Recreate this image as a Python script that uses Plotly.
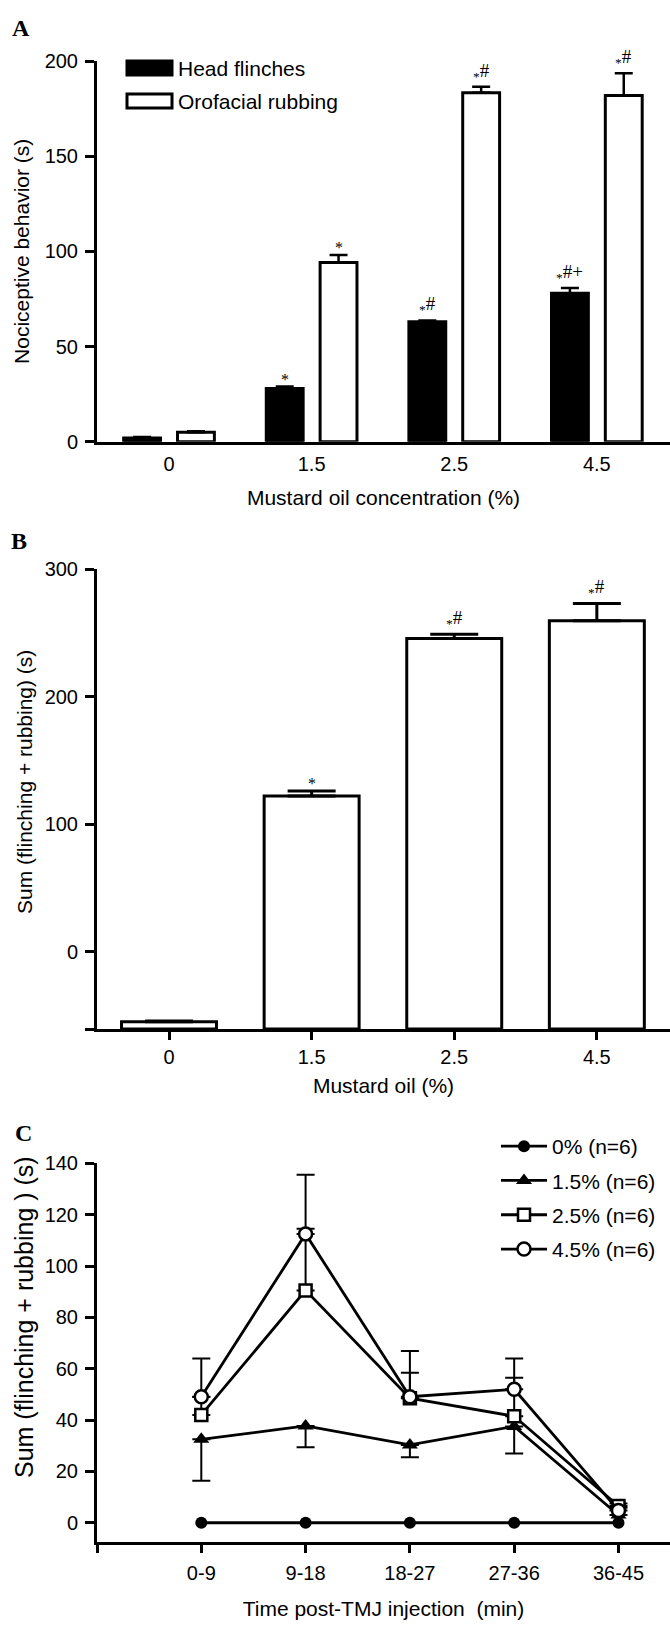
import plotly.graph_objects as go

W, H = 670, 1631

# ---------------- data ----------------
# Panel A
conc_labels = ["0", "1.5", "2.5", "4.5"]
head_flinches = [2.0, 28.0, 63.0, 78.0]
head_flinches_err = [0.5, 1.0, 0.7, 2.7]
orofacial_rubbing = [4.9, 94.2, 183.3, 181.9]
orofacial_rubbing_err = [0.6, 3.9, 3.2, 11.6]
head_marks = ["", "*", "*#", "*#+"]
rub_marks = ["", "*", "*#", "*#"]

# Panel B
sum_labels = ["0", "1.5", "2.5", "4.5"]
sum_values = [-55.0, 122.2, 245.7, 259.6]
sum_err = [0.5, 3.9, 3.4, 13.6]
sum_marks = ["", "*", "*#", "*#"]
b_axis_min = -60.7

# Panel C
time_labels = ["0-9", "9-18", "18-27", "27-36", "36-45"]
c_names = ["0% (n=6)", "1.5% (n=6)", "2.5% (n=6)", "4.5% (n=6)"]
c0 = [0, 0, 0, 0, 0]
c15 = [32.5, 37.7, 30.3, 37.5, 3.0]
c15_err_down = [16.1, 8.3, 4.8, 10.5, 0.0]
c25 = [42.0, 90.5, 48.5, 41.5, 6.5]
c25_err_up = [7.0, 24.0, 9.9, 15.0, 1.0]
c45 = [49.1, 112.5, 49.1, 52.0, 4.8]
c45_err_up = [14.9, 23.0, 17.8, 12.0, 1.0]

# ---------------- helpers ----------------
def px(xp):
    return xp / W

def py(yp):
    return 1 - yp / H

FONT = "Liberation Sans, Arial, sans-serif"
SERIF = "Liberation Serif, Times New Roman, serif"

def mark_text(s):
    if s.startswith("*") and len(s) > 1:
        return "<sub>*</sub>" + s[1:]
    return s

BARGAP = 0.245
BARGROUPGAP = 0.315
off = (1 - BARGAP) / 4

fig = go.Figure()

# ---------------- Panel A ----------------
xA = list(range(len(conc_labels)))
fig.add_trace(go.Bar(
    x=xA, y=head_flinches, name="Head flinches", xaxis="x", yaxis="y",
    marker=dict(color="black", line=dict(color="black", width=3)),
    error_y=dict(type="data", array=head_flinches_err, arrayminus=[0] * 4,
                 symmetric=False, color="black", thickness=2.5, width=9),
    showlegend=False))
fig.add_trace(go.Bar(
    x=xA, y=orofacial_rubbing, name="Orofacial rubbing", xaxis="x", yaxis="y",
    marker=dict(color="white", line=dict(color="black", width=3)),
    error_y=dict(type="data", array=orofacial_rubbing_err, arrayminus=[0] * 4,
                 symmetric=False, color="black", thickness=2.5, width=9),
    showlegend=False))

# ---------------- Panel B ----------------
xB = list(range(len(sum_labels)))
fig.add_trace(go.Bar(
    x=xB, y=[v - b_axis_min for v in sum_values], base=b_axis_min, width=0.666,
    name="Sum", xaxis="x2", yaxis="y2",
    marker=dict(color="white", line=dict(color="black", width=3)),
    error_y=dict(type="data", array=sum_err, arrayminus=[0] * 4,
                 symmetric=False, color="black", thickness=3, width=24),
    showlegend=False))

# ---------------- Panel C ----------------
xC = list(range(1, len(time_labels) + 1))
line_style = dict(color="black", width=2.8)
fig.add_trace(go.Scatter(
    x=xC, y=c0, name=c_names[0], mode="lines+markers", xaxis="x3", yaxis="y3",
    line=line_style, marker=dict(symbol="circle", size=12, color="black"),
    legendgroup="g0"))
fig.add_trace(go.Scatter(
    x=xC, y=c15, name=c_names[1], mode="lines+markers", xaxis="x3", yaxis="y3",
    line=line_style, marker=dict(symbol="triangle-up", size=14, color="black"),
    error_y=dict(type="data", array=[0] * 5, arrayminus=c15_err_down, symmetric=False,
                 color="black", thickness=2, width=9),
    legendgroup="g1"))
fig.add_trace(go.Scatter(
    x=xC, y=c25, name=c_names[2], mode="lines+markers", xaxis="x3", yaxis="y3",
    line=line_style, marker=dict(symbol="square", size=12, color="white",
                                 line=dict(color="black", width=2.5)),
    error_y=dict(type="data", array=c25_err_up, arrayminus=[0] * 5, symmetric=False,
                 color="black", thickness=2, width=9),
    legendgroup="g2"))
fig.add_trace(go.Scatter(
    x=xC, y=c45, name=c_names[3], mode="lines+markers", xaxis="x3", yaxis="y3",
    line=line_style, marker=dict(symbol="circle", size=13, color="white",
                                 line=dict(color="black", width=2.5)),
    error_y=dict(type="data", array=c45_err_up, arrayminus=[0] * 5, symmetric=False,
                 color="black", thickness=2, width=9),
    legendgroup="g3"))

# ---------------- annotations ----------------
annotations = []

def add_mark(text, x, y, xref, yref):
    if not text:
        return
    lone = text == "*"
    annotations.append(dict(
        text=mark_text(text), x=x, y=y, xref=xref, yref=yref,
        xanchor="center", yanchor="bottom", showarrow=False,
        yshift=-3 if lone else 1,
        font=dict(family=SERIF, size=16 if lone else 19, color="black")))

for i in range(len(conc_labels)):
    add_mark(head_marks[i], i - off, head_flinches[i] + head_flinches_err[i], "x", "y")
    add_mark(rub_marks[i], i + off, orofacial_rubbing[i] + orofacial_rubbing_err[i], "x", "y")
for i in range(len(sum_labels)):
    add_mark(sum_marks[i], i, sum_values[i] + sum_err[i], "x2", "y2")

for lab, xp_, yp_ in [("A", 21, 28), ("B", 19, 541), ("C", 23, 1133)]:
    annotations.append(dict(
        text="<b>%s</b>" % lab, x=px(xp_), y=py(yp_), xref="paper", yref="paper",
        xanchor="center", yanchor="middle", showarrow=False,
        font=dict(family=SERIF, size=24, color="black")))

# y titles for B and C
annotations.append(dict(
    text="Sum (flinching + rubbing) (s)", x=px(24), y=py(782), xref="paper", yref="paper",
    xanchor="center", yanchor="middle", textangle=-90, showarrow=False,
    font=dict(family=FONT, size=21, color="black")))
annotations.append(dict(
    text="Sum (flinching + rubbing ) (s)", x=px(24), y=py(1317), xref="paper", yref="paper",
    xanchor="center", yanchor="middle", textangle=-90, showarrow=False,
    font=dict(family=FONT, size=25, color="black")))

# custom legend for panel A
shapes = [
    dict(type="rect", xref="paper", yref="paper", x0=px(127), x1=px(172), y0=py(75), y1=py(61),
         fillcolor="black", line=dict(color="black", width=3)),
    dict(type="rect", xref="paper", yref="paper", x0=px(127), x1=px(172), y0=py(108), y1=py(94),
         fillcolor="white", line=dict(color="black", width=3)),
]
annotations.append(dict(text="Head flinches", x=px(176), y=py(68), xref="paper", yref="paper",
                        xanchor="left", yanchor="middle", showarrow=False,
                        font=dict(family=FONT, size=21, color="black")))
annotations.append(dict(text="Orofacial rubbing", x=px(176), y=py(101), xref="paper", yref="paper",
                        xanchor="left", yanchor="middle", showarrow=False,
                        font=dict(family=FONT, size=21, color="black")))

# ---------------- axes ----------------
common = dict(showline=True, linewidth=3, linecolor="black", showgrid=False, zeroline=False,
              tickfont=dict(family=FONT, size=20, color="black"), automargin=False,
              tickcolor="black", tickwidth=3)

xdom = [px(97), 1.0]

fig.update_layout(
    width=W, height=H, autosize=False,
    margin=dict(l=0, r=0, t=0, b=0),
    template="none",
    paper_bgcolor="white", plot_bgcolor="white",
    font=dict(family=FONT, size=20, color="black"),
    barmode="group", bargap=BARGAP, bargroupgap=BARGROUPGAP,
    xaxis=dict(common, domain=xdom, anchor="y", range=[-0.505, 3.513],
               tickvals=xA, ticktext=conc_labels, ticks="", ticklabelstandoff=2,
               title=dict(text="Mustard oil concentration (%)", standoff=17,
                          font=dict(family=FONT, size=21))),
    yaxis=dict(common, domain=[py(441.7), py(61)], anchor="x", range=[0, 200],
               tickvals=[0, 50, 100, 150, 200], ticks="outside", ticklen=9,
               ticklabelstandoff=3,
               title=dict(text="Nociceptive behavior (s)", standoff=10,
                          font=dict(family=FONT, size=21))),
    xaxis2=dict(common, domain=xdom, anchor="y2", range=[-0.505, 3.513],
                tickvals=xB, ticktext=sum_labels, ticks="outside", ticklen=8,
                ticklabelstandoff=0,
                title=dict(text="Mustard oil (%)", standoff=12,
                           font=dict(family=FONT, size=21))),
    yaxis2=dict(common, domain=[py(1029), py(569.3)], anchor="x2", range=[b_axis_min, 300],
                tickvals=[0, 100, 200, 300], ticks="outside", ticklen=9,
                ticklabelstandoff=3,
                minor=dict(tickvals=[b_axis_min], ticks="outside", ticklen=9, tickwidth=3,
                           tickcolor="black", showgrid=False)),
    xaxis3=dict(common, domain=xdom, anchor="y3", range=[0, 5.494],
                tickvals=xC, ticktext=time_labels, ticks="outside", ticklen=8,
                ticklabelstandoff=3,
                minor=dict(tickvals=[0], ticks="outside", ticklen=8, tickwidth=3,
                           tickcolor="black", showgrid=False),
                title=dict(text="Time post-TMJ injection \u00a0(min)", standoff=19,
                           font=dict(family=FONT, size=21))),
    yaxis3=dict(common, domain=[py(1542), py(1163.3)], anchor="x3", range=[-7.5, 140],
                tickvals=list(range(0, 141, 20)), ticks="outside", ticklen=9,
                ticklabelstandoff=3),
    legend=dict(x=px(496), y=py(1126), xanchor="left", yanchor="top",
                bgcolor="rgba(0,0,0,0)", borderwidth=0,
                font=dict(family=FONT, size=21, color="black"),
                traceorder="grouped", tracegroupgap=4, itemwidth=46),
    annotations=annotations,
    shapes=shapes,
)

fig.write_html("out.html", config={"displayModeBar": False},
               post_script="document.body.style.margin='0';document.body.style.padding='0';")
